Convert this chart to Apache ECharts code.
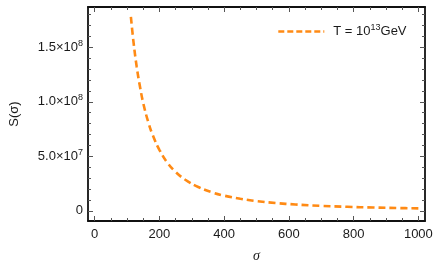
<!DOCTYPE html>
<html><head><meta charset="utf-8">
<script src="https://cdn.jsdelivr.net/npm/echarts@6/dist/echarts.min.js"></script>
<style>html,body{margin:0;padding:0;background:#fff}#c{width:436px;height:273px}</style>
</head><body><div id="c"></div>
<script>
// data
const sigma = [112,120,130,140,150,165,180,200,225,250,280,320,360,400,450,500,560,620,700,780,860,940,1000];
const S = [1.78e8,1.55e8,1.32e8,1.14e8,9.9e7,8.2e7,6.9e7,5.6e7,4.4e7,3.57e7,2.85e7,2.18e7,1.72e7,1.39e7,1.10e7,8.9e6,7.1e6,5.8e6,4.55e6,3.67e6,3.02e6,2.52e6,2.23e6];
const seriesName = 'T13';
const xMajor = [0,200,400,600,800,1000];
const xMinor = [50,100,150,250,300,350,450,500,550,650,700,750,850,900,950];
const yMajor = [0,5e7,1e8,1.5e8];
const yMinor = [1e7,2e7,3e7,4e7,6e7,7e7,8e7,9e7,1.1e8,1.2e8,1.3e8,1.4e8,1.6e8,1.7e8,1.8e8];
const yLabels = {0:'0', 5e7:'5.0×10{s|7}', 1e8:'1.0×10{s|8}', 1.5e8:'1.5×10{s|8}'};

const XMIN=-20.5, XMAX=1020.5, YMIN=-9.36e6, YMAX=1.87e8;
const txt = '#1a1a1a', tickCol='#555';
function xa(pos, vals, len, labels, line){
  return {type:'value', position:pos, min:XMIN, max:XMAX, z:5,
    axisLine:{show:line, onZero:false, lineStyle:{color:'#111', width:1.8}}, splitLine:{show:false},
    axisTick:{show:true, inside:true, length:len, customValues:vals, lineStyle:{color:tickCol,width:1}},
    axisLabel:{show:labels, customValues:vals, margin:7, color:txt, fontSize:13, fontFamily:'Liberation Sans, Arial',
      formatter:v=>String(v)}};
}
function ya(pos, vals, len, labels, line){
  return {type:'value', position:pos, min:YMIN, max:YMAX, z:5,
    axisLine:{show:line, onZero:false, lineStyle:{color:'#111', width:1.8}}, splitLine:{show:false},
    axisTick:{show:true, inside:true, length:len, customValues:vals, lineStyle:{color:tickCol,width:1}},
    axisLabel:{show:labels, customValues:vals, margin:5, color:txt, fontSize:13, fontFamily:'Liberation Sans, Arial',
      formatter:v=>yLabels[v]!==undefined?yLabels[v]:'',
      rich:{s:{fontSize:9, verticalAlign:'top', padding:[0,0,8,0], color:txt, fontFamily:'Liberation Sans, Arial'}}}};
}
const xAxes=[xa('bottom',xMajor,5,true,true),xa('bottom',xMinor,3,true,false),xa('top',xMajor,5,true,true),xa('top',xMinor,3,true,false)];
xAxes[1].axisLabel.formatter=()=>''; xAxes[2].axisLabel.formatter=()=>''; xAxes[3].axisLabel.formatter=()=>'';
xAxes[0].name='σ'; xAxes[0].nameLocation='middle'; xAxes[0].nameGap=28;
xAxes[0].nameTextStyle={fontStyle:'italic', fontSize:14, color:txt, fontFamily:'Liberation Serif, Times New Roman'};
const yAxes=[ya('left',yMajor,5,true,true),ya('left',yMinor,3,true,false),ya('right',yMajor,5,true,true),ya('right',yMinor,3,true,false)];
yAxes[1].axisLabel.formatter=()=>''; yAxes[2].axisLabel.formatter=()=>''; yAxes[3].axisLabel.formatter=()=>'';
yAxes[0].name='S(σ)'; yAxes[0].nameLocation='middle'; yAxes[0].nameGap=67; yAxes[0].nameRotate=90;
yAxes[0].nameTextStyle={fontSize:13, color:txt, fontFamily:'Liberation Sans, Arial'};

const chart = echarts.init(document.getElementById('c'), null, {renderer:'canvas'});
chart.setOption({
  animation:false,
  grid:{left:85, top:5, right:11, bottom:52, show:false},
  xAxis:xAxes, yAxis:yAxes,
  legend:{show:true, left:277, top:23, padding:0, itemWidth:46, itemHeight:10, itemGap:10,
    data:[seriesName],
    itemStyle:{opacity:0},
    lineStyle:{type:[6,3], width:2.6, color:'#ff8a14'},
    formatter:()=> 'T = 10{s|13}GeV',
    textStyle:{color:txt, fontSize:13, fontFamily:'Liberation Sans, Arial', padding:[0,0,0,4],
      rich:{s:{fontSize:9, verticalAlign:'top', padding:[0,0,8,0], color:txt}}}},
  series:[{name:seriesName, type:'line', xAxisIndex:0, yAxisIndex:0, symbol:'none', smooth:0.4,
    data:sigma.map((s,i)=>[s,S[i]]),
    lineStyle:{color:'#ff8a14', width:2.6, type:[7,4]}, itemStyle:{color:'#ff8a14'}}]
});
</script></body></html>
